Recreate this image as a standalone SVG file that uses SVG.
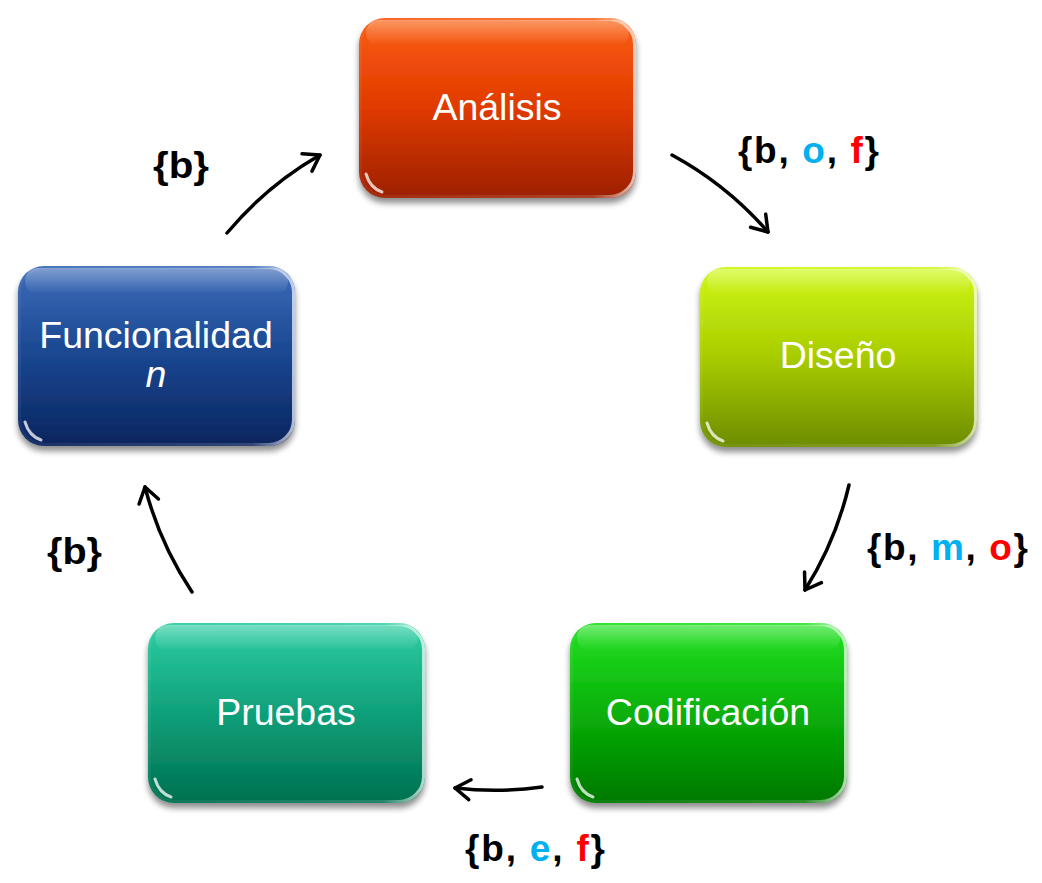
<svg xmlns="http://www.w3.org/2000/svg" width="1042" height="883" viewBox="0 0 1042 883">
  <defs>
    <style>
      .box { stroke-width: 1.5; }
      .rim { fill: none; stroke: url(#rimGrad); stroke-width: 3; }
      .shine { fill: url(#shineGrad); }
      .corner { fill: none; stroke: #ffffff; stroke-opacity: 0.75; stroke-width: 3; stroke-linecap: round; }
      .node-text { font-family: "Liberation Sans", Arial, sans-serif; font-size: 37.5px; fill: #ffffff; text-anchor: middle; }
      .label { font-family: "Liberation Sans", Arial, sans-serif; font-size: 37px; font-weight: bold; fill: #000000; }
      .c { fill: #00B0F0; }
      .r { fill: #FF0000; }
      .conn { fill: none; stroke: #000000; stroke-width: 3.5; stroke-linecap: round; marker-end: url(#arrow); }
    </style>
    <filter id="shadow" x="-10%" y="-10%" width="120%" height="130%">
      <feGaussianBlur in="SourceAlpha" stdDeviation="3"/>
      <feOffset dx="0" dy="5" result="b"/>
      <feComponentTransfer><feFuncA type="linear" slope="0.45"/></feComponentTransfer>
      <feMerge><feMergeNode/><feMergeNode in="SourceGraphic"/></feMerge>
    </filter>
    <linearGradient id="gA" x1="0" y1="0" x2="0" y2="1">
      <stop offset="0" stop-color="#FB5E12"/>
      <stop offset="0.5" stop-color="#E03A00"/>
      <stop offset="1" stop-color="#9C2000"/>
    </linearGradient>
    <linearGradient id="gD" x1="0" y1="0" x2="0" y2="1">
      <stop offset="0" stop-color="#CFF816"/>
      <stop offset="0.5" stop-color="#A8CC00"/>
      <stop offset="1" stop-color="#6C8C00"/>
    </linearGradient>
    <linearGradient id="gC" x1="0" y1="0" x2="0" y2="1">
      <stop offset="0" stop-color="#24E224"/>
      <stop offset="0.5" stop-color="#08B008"/>
      <stop offset="1" stop-color="#007800"/>
    </linearGradient>
    <linearGradient id="gP" x1="0" y1="0" x2="0" y2="1">
      <stop offset="0" stop-color="#2DCDA2"/>
      <stop offset="0.5" stop-color="#0FA07A"/>
      <stop offset="1" stop-color="#00704F"/>
    </linearGradient>
    <linearGradient id="gF" x1="0" y1="0" x2="0" y2="1">
      <stop offset="0" stop-color="#3C6CB9"/>
      <stop offset="0.5" stop-color="#1A4690"/>
      <stop offset="1" stop-color="#0A255E"/>
    </linearGradient>
    <linearGradient id="rimGrad" x1="0" y1="0" x2="1" y2="0">
      <stop offset="0" stop-color="#ffffff" stop-opacity="0.05"/>
      <stop offset="0.85" stop-color="#ffffff" stop-opacity="0.15"/>
      <stop offset="1" stop-color="#ffffff" stop-opacity="0.7"/>
    </linearGradient>
    <linearGradient id="shineGrad" x1="0" y1="0" x2="0" y2="1">
      <stop offset="0" stop-color="#ffffff" stop-opacity="0.35"/>
      <stop offset="1" stop-color="#ffffff" stop-opacity="0"/>
    </linearGradient>
    <marker id="arrow" markerUnits="userSpaceOnUse" markerWidth="22" markerHeight="26" viewBox="0 0 22 26" refX="18" refY="13" orient="auto">
      <path d="M3,3 L18,13 L3,23" fill="none" stroke="#000000" stroke-width="3.5" stroke-linecap="round" stroke-linejoin="round"/>
    </marker>
  </defs>

  <rect width="1042" height="883" fill="#ffffff"/>

  <g id="connectors">
    <path class="conn" d="M227,233 A345,345 0 0 1 320,155"/>
    <path class="conn" d="M672,155 A345,345 0 0 1 768,232"/>
    <path class="conn" d="M849,485 A345,345 0 0 1 805,590"/>
    <path class="conn" d="M542,787 A345,345 0 0 1 455,788"/>
    <path class="conn" d="M192,592 A345,345 0 0 1 145,487"/>
  </g>

  <g id="node-analisis">
    <rect class="box" x="359" y="18" width="277" height="180" rx="26" fill="url(#gA)" filter="url(#shadow)"/>
    <rect class="shine" x="366" y="20" width="263" height="26" rx="13"/>
    <rect class="rim" x="360.5" y="19.5" width="274" height="177" rx="25"/>
    <path class="corner" d="M366,174 Q370,188 382,192"/>
    <text class="node-text" x="497" y="120">Análisis</text>
  </g>

  <g id="node-diseno">
    <rect class="box" x="700" y="267" width="277" height="180" rx="26" fill="url(#gD)" filter="url(#shadow)"/>
    <rect class="shine" x="707" y="269" width="263" height="26" rx="13"/>
    <rect class="rim" x="701.5" y="268.5" width="274" height="177" rx="25"/>
    <path class="corner" d="M707,423 Q711,437 723,441"/>
    <text class="node-text" x="838" y="368">Diseño</text>
  </g>

  <g id="node-codificacion">
    <rect class="box" x="570" y="623" width="277" height="180" rx="26" fill="url(#gC)" filter="url(#shadow)"/>
    <rect class="shine" x="577" y="625" width="263" height="26" rx="13"/>
    <rect class="rim" x="571.5" y="624.5" width="274" height="177" rx="25"/>
    <path class="corner" d="M577,779 Q581,793 593,797"/>
    <text class="node-text" x="708" y="725">Codificación</text>
  </g>

  <g id="node-pruebas">
    <rect class="box" x="148" y="623" width="277" height="180" rx="26" fill="url(#gP)" filter="url(#shadow)"/>
    <rect class="shine" x="155" y="625" width="263" height="26" rx="13"/>
    <rect class="rim" x="149.5" y="624.5" width="274" height="177" rx="25"/>
    <path class="corner" d="M155,779 Q159,793 171,797"/>
    <text class="node-text" x="286" y="725">Pruebas</text>
  </g>

  <g id="node-funcionalidad">
    <rect class="box" x="18" y="266" width="277" height="180" rx="26" fill="url(#gF)" filter="url(#shadow)"/>
    <rect class="shine" x="25" y="268" width="263" height="26" rx="13"/>
    <rect class="rim" x="19.5" y="267.5" width="274" height="177" rx="25"/>
    <path class="corner" d="M25,422 Q29,436 41,440"/>
    <text class="node-text" x="156" y="348">Funcionalidad</text>
    <text class="node-text" x="156" y="387" font-style="italic">n</text>
  </g>

  <g id="labels">
    <text class="label" x="153" y="178" textLength="56" lengthAdjust="spacingAndGlyphs">{b}</text>
    <text class="label" x="738" y="163" textLength="141" lengthAdjust="spacing">{b, <tspan class="c">o</tspan>, <tspan class="r">f</tspan>}</text>
    <text class="label" x="867" y="560" textLength="161" lengthAdjust="spacing">{b, <tspan class="c">m</tspan>, <tspan class="r">o</tspan>}</text>
    <text class="label" x="465" y="861" textLength="140" lengthAdjust="spacing">{b, <tspan class="c">e</tspan>, <tspan class="r">f</tspan>}</text>
    <text class="label" x="47" y="564" textLength="55" lengthAdjust="spacingAndGlyphs">{b}</text>
  </g>
</svg>
